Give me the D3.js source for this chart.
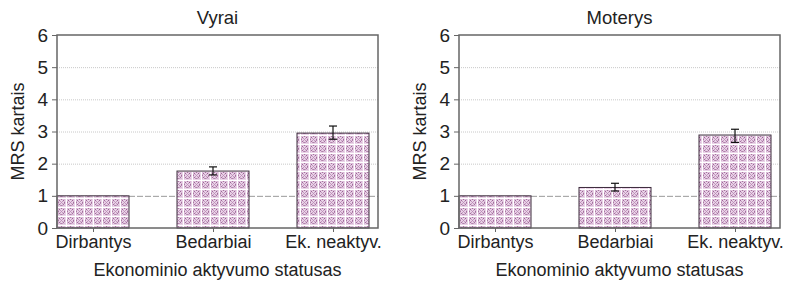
<!DOCTYPE html>
<html>
<head>
<meta charset="utf-8">
<script src="https://cdn.jsdelivr.net/npm/d3@7"></script>
<style>
  body { margin: 0; background: #fff; }
  text { font-family: "Liberation Sans", Arial, sans-serif; fill: #222; }
</style>
</head>
<body>
<div id="chart"></div>
<script>
// data
var categories = ["Dirbantys", "Bedarbiai", "Ek. neaktyv."];
var panelTitles = ["Vyrai", "Moterys"];
var valuesMen = [1, 1.77, 2.95];
var lowMen = [null, 1.65, 2.76];
var highMen = [null, 1.9, 3.17];
var valuesWomen = [1, 1.26, 2.89];
var lowWomen = [null, 1.15, 2.66];
var highWomen = [null, 1.39, 3.07];
var yTicks = [0, 1, 2, 3, 4, 5, 6];

var W = 795, H = 281;
var svg = d3.select("#chart").append("svg")
    .attr("width", W).attr("height", H);

// hatch pattern for the bars
var defs = svg.append("defs");
var pat = defs.append("pattern")
    .attr("id", "mesh")
    .attr("patternUnits", "userSpaceOnUse")
    .attr("width", 9).attr("height", 9);
pat.append("rect").attr("width", 9).attr("height", 9).attr("fill", "#ead3e8");
pat.append("path").attr("d", "M1.5,1.5L7.5,7.5M7.5,1.5L1.5,7.5")
    .attr("stroke", "#b98ab5").attr("stroke-width", 0.8);
pat.append("circle").attr("cx", 4.5).attr("cy", 4.5).attr("r", 3)
    .attr("fill", "none").attr("stroke", "#87467f").attr("stroke-width", 1)
    .attr("stroke-dasharray", "1.3,0.9");
pat.append("path").attr("d", "M0,0.5H9M0.5,0V9")
    .attr("stroke", "#ffffff").attr("stroke-width", 1);

var panels = [
    {left: 57, title: panelTitles[0], vals: valuesMen, lo: lowMen, hi: highMen},
    {left: 459, title: panelTitles[1], vals: valuesWomen, lo: lowWomen, hi: highWomen}
];

var pw = 321, plotTop = 35, plotBottom = 228, barW = 72;

var y = d3.scaleLinear().domain([0, 6]).range([plotBottom, plotTop]);

panels.forEach(function(p){
    var g = svg.append("g").attr("transform", "translate(" + p.left + ",0)");
    var x = d3.scalePoint().domain(categories).range([36, 276]);

    // grid lines
    g.selectAll(".grid")
        .data(yTicks.filter(function(d){ return d >= 2 && d <= 5; }))
        .enter().append("line")
        .attr("x1", 0).attr("x2", pw)
        .attr("y1", function(d){ return y(d) + 0.5; })
        .attr("y2", function(d){ return y(d) + 0.5; })
        .attr("stroke", "#c8c8c8").attr("stroke-width", 1)
        .attr("stroke-dasharray", "1,1");

    // reference line at 1
    g.append("line")
        .attr("x1", 0).attr("x2", pw)
        .attr("y1", y(1) + 0.5).attr("y2", y(1) + 0.5)
        .attr("stroke", "#999").attr("stroke-width", 1)
        .attr("stroke-dasharray", "6,2");

    // bars
    g.selectAll(".bar")
        .data(p.vals)
        .enter().append("rect")
        .attr("x", function(d, i){ return x(categories[i]) - barW / 2; })
        .attr("y", function(d){ return y(d); })
        .attr("width", barW)
        .attr("height", function(d){ return y(0) - y(d); })
        .attr("fill", "url(#mesh)")
        .attr("stroke", "#3a2a3a").attr("stroke-width", 1);

    // error bars
    var eb = g.selectAll(".err")
        .data(d3.range(categories.length).filter(function(i){ return p.lo[i] != null; }))
        .enter().append("g");
    eb.append("line")
        .attr("x1", function(i){ return x(categories[i]); })
        .attr("x2", function(i){ return x(categories[i]); })
        .attr("y1", function(i){ return y(p.lo[i]); })
        .attr("y2", function(i){ return y(p.hi[i]); })
        .attr("stroke", "#111").attr("stroke-width", 1.2);
    [p.lo, p.hi].forEach(function(arr){
        eb.append("line")
            .attr("x1", function(i){ return x(categories[i]) - 4; })
            .attr("x2", function(i){ return x(categories[i]) + 4; })
            .attr("y1", function(i){ return y(arr[i]); })
            .attr("y2", function(i){ return y(arr[i]); })
            .attr("stroke", "#111").attr("stroke-width", 1.2);
    });

    // frame
    g.append("rect")
        .attr("x", 0).attr("y", plotTop)
        .attr("width", pw).attr("height", plotBottom - plotTop)
        .attr("fill", "none").attr("stroke", "#666").attr("stroke-width", 1.5);

    // y axis
    var ya = g.append("g").call(d3.axisLeft(y).tickValues(yTicks)
        .tickFormat(d3.format("d")).tickSize(5).tickPadding(4));
    ya.select(".domain").remove();
    ya.selectAll("line").attr("stroke", "#666");
    ya.selectAll("text").style("font-size", "19px").attr("fill", "#222");

    // x axis
    var xa = g.append("g").attr("transform", "translate(0," + plotBottom + ")")
        .call(d3.axisBottom(x).tickSize(4).tickPadding(3));
    xa.select(".domain").remove();
    xa.selectAll("line").attr("stroke", "#666");
    xa.selectAll("text").style("font-size", "18px").attr("fill", "#222");

    // titles
    g.append("text")
        .attr("x", pw / 2).attr("y", 24)
        .attr("text-anchor", "middle")
        .style("font-size", "18.5px")
        .text(p.title);

    g.append("text")
        .attr("x", pw / 2).attr("y", 276)
        .attr("text-anchor", "middle")
        .style("font-size", "18px")
        .text("Ekonominio aktyvumo statusas");

    g.append("text")
        .attr("transform", "translate(-33," + ((plotTop + plotBottom) / 2) + ") rotate(-90)")
        .attr("text-anchor", "middle")
        .style("font-size", "18px")
        .text("MRS kartais");
});
</script>
</body>
</html>
